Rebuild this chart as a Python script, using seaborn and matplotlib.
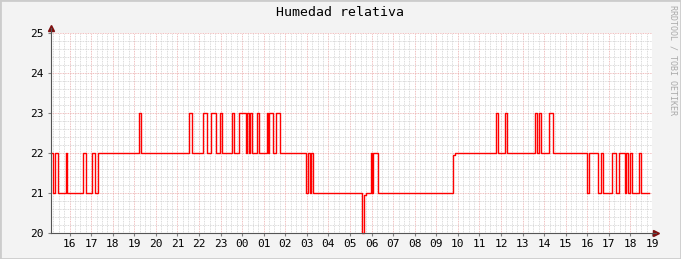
import matplotlib
matplotlib.use("Agg")
import matplotlib.pyplot as plt
import seaborn as sns
import pandas as pd
from matplotlib.patches import Rectangle

# ---- data (hours since 00:00 of first day; value = relative humidity) ----
hours = [15.14, 15.25, 15.34, 15.48, 15.85, 15.90, 16.61, 16.74, 17.06, 17.16,
         17.34, 19.23, 19.32, 21.56, 21.66, 22.20, 22.38, 22.54, 22.78, 22.97,
         23.06, 23.54, 23.60, 23.86, 24.17, 24.23, 24.32, 24.37, 24.46, 24.69,
         24.77, 25.13, 25.20, 25.25, 25.44, 25.59, 25.75, 26.95, 27.06, 27.13,
         27.19, 27.29, 29.56, 29.65, 29.74, 29.96, 30.04, 30.08, 30.31, 33.77,
         33.88, 35.78, 35.87, 36.18, 36.27, 37.57, 37.66, 37.75, 37.84, 38.21,
         38.40, 39.99, 40.07, 40.48, 40.64, 40.73, 41.13, 41.31, 41.47, 41.75,
         41.80, 41.89, 41.96, 42.06, 42.41, 42.49, 42.87]
humidity = [22, 21, 22, 21, 22, 21, 22, 21, 22, 21,
            22, 23, 22, 23, 22, 23, 22, 23, 22, 23,
            22, 23, 22, 23, 22, 23, 22, 23, 22, 23,
            22, 23, 22, 23, 22, 23, 22, 21, 22, 21,
            22, 21, 20, 20.95, 21, 22, 21, 22, 21, 21.95,
            22, 23, 22, 23, 22, 23, 22, 23, 22, 23,
            22, 21, 22, 21, 22, 21, 22, 21, 22, 21,
            22, 21, 22, 21, 22, 21, 21]
tick_hours = list(range(16, 44))
tick_labels = ["16", "17", "18", "19", "20", "21", "22", "23", "00", "01",
               "02", "03", "04", "05", "06", "07", "08", "09", "10", "11",
               "12", "13", "14", "15", "16", "17", "18", "19"]
y_ticks = [20, 21, 22, 23, 24, 25]
title = "Humedad relativa"
watermark = "RRDTOOL / TOBI OETIKER"

df = pd.DataFrame({"hour": hours, "humidity": humidity})

W, H = 681, 259
fig = plt.figure(figsize=(W / 100, H / 100), dpi=100, facecolor="#F3F3F3")
x0, x1, ytop, ybot = 51, 652, 33, 233
ax = fig.add_axes([x0 / W, (H - ybot) / H, (x1 - x0) / W, (ybot - ytop) / H])
ax.set_facecolor("white")

mono = "DejaVu Sans Mono"

# grid
ax.set_xlim(15.14, 42.99)
ax.set_ylim(20, 25)
ax.set_xticks(tick_hours)
ax.set_xticklabels(tick_labels, fontfamily=mono, fontsize=8)
ax.set_xticks([h / 4 for h in range(61, 172)], minor=True)
ax.set_yticks(y_ticks)
ax.set_yticklabels([str(v) for v in y_ticks], fontfamily=mono, fontsize=8)
ax.set_yticks([20 + i * 0.2 for i in range(26)], minor=True)
ax.grid(which="minor", color="#CFCFCF", linestyle=(0, (1, 1)), linewidth=0.6)
ax.grid(which="major", color="#EBA8A8", linestyle=(0, (1, 1)), linewidth=0.6)
ax.set_axisbelow(True)
ax.tick_params(which="both", length=0, pad=3, colors="black")
ax.tick_params(axis="x", which="major", length=2, color="#7F7F7F", pad=2)
ax.tick_params(axis="y", which="major", length=2, color="#7F7F7F", pad=3)

sns.lineplot(data=df, x="hour", y="humidity", ax=ax, drawstyle="steps-post",
             color="#FF0000", linewidth=1.0, clip_on=False)
ax.set_xlabel("")
ax.set_ylabel("")

for side in ["top", "right"]:
    ax.spines[side].set_visible(False)
for side in ["left", "bottom"]:
    ax.spines[side].set_color("#555555")
    ax.spines[side].set_linewidth(0.8)

# arrows at axis ends
ax.plot([0], [1.0 + 5 / 200], marker="^", color="#7F1010", markersize=4,
        transform=ax.transAxes, clip_on=False)
ax.plot([0, 0], [1.0, 1.0 + 5 / 200], color="#555555", linewidth=0.8,
        transform=ax.transAxes, clip_on=False)
ax.plot([1.0 + 4 / 601], [0], marker=">", color="#7F1010", markersize=4,
        transform=ax.transAxes, clip_on=False)
ax.plot([1.0, 1.0 + 4 / 601], [0, 0], color="#555555", linewidth=0.8,
        transform=ax.transAxes, clip_on=False)

fig.text(340 / W, 1 - 13 / H, title, ha="center", va="center",
         fontfamily=mono, fontsize=9.5, color="black")
fig.text(673 / W, 1 - 5 / H, watermark, ha="center", va="top", rotation=270,
         fontfamily=mono, fontsize=6, color="#AAAAAA")

# image frame
fig.patches.append(Rectangle((0, 0), 1, 1, transform=fig.transFigure,
                             fill=False, edgecolor="#CCCCCC", linewidth=2))

fig.savefig("out.png", dpi=100, facecolor=fig.get_facecolor())
